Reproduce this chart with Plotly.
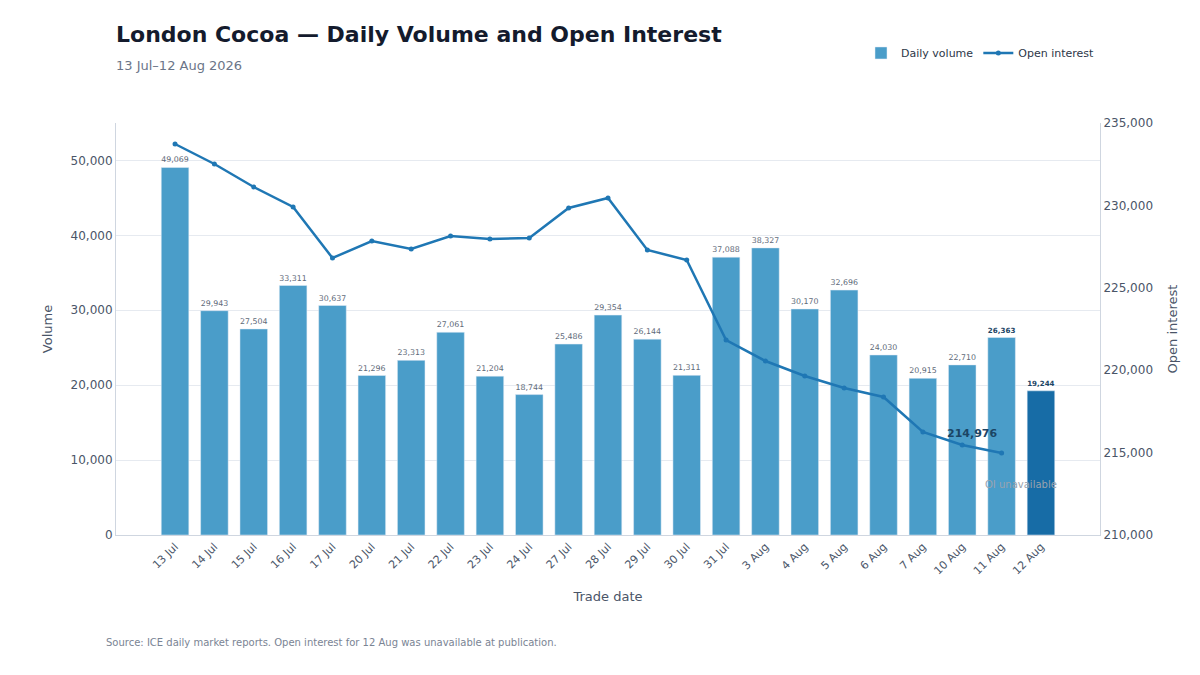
import plotly.graph_objects as go

dates = ["13 Jul", "14 Jul", "15 Jul", "16 Jul", "17 Jul", "20 Jul", "21 Jul", "22 Jul",
         "23 Jul", "24 Jul", "27 Jul", "28 Jul", "29 Jul", "30 Jul", "31 Jul", "3 Aug",
         "4 Aug", "5 Aug", "6 Aug", "7 Aug", "10 Aug", "11 Aug", "12 Aug"]
volume = [49069, 29943, 27504, 33311, 30637, 21296, 23313, 27061, 21204, 18744, 25486,
          29354, 26144, 21311, 37088, 38327, 30170, 32696, 24030, 20915, 22710, 26363, 19244]
open_interest = [233726, 232512, 231117, 229903, 226808, 227840, 227354, 228143, 227961,
                 228022, 229842, 230449, 227294, 226687, 221833, 220558, 219648, 218920,
                 218374, 216250, 215461, 214976, None]

font = "DejaVu Sans"
bar_colors = ["#4a9dc9"] * (len(dates) - 1) + ["#176ca6"]
texts = [f"{v:,}" for v in volume[:-2]] + [f"<b>{v:,}</b>" for v in volume[-2:]]
text_sizes = [8] * (len(dates) - 2) + [11, 11]
text_colors = ["#5f6b7a"] * (len(dates) - 2) + ["#1b4565", "#1b4565"]

fig = go.Figure()
fig.add_trace(go.Bar(
    x=dates, y=volume, name="Daily volume", marker_color=bar_colors,
    text=texts, textposition="outside", cliponaxis=False,
    textfont=dict(size=text_sizes, color=text_colors, family=font),
    width=0.7,
))
fig.add_trace(go.Scatter(
    x=dates, y=open_interest, name="Open interest", yaxis="y2",
    mode="lines+markers", line=dict(color="#1f77b4", width=2.5),
    marker=dict(size=5, color="#1f77b4"),
))
fig.add_annotation(x="10 Aug", y=open_interest[21], yref="y2", text="<b>214,976</b>",
                   showarrow=False, yshift=20, xshift=10,
                   font=dict(size=11, color="#1b4565", family=font))
fig.add_annotation(x=21.5, y=6800, text="OI unavailable", showarrow=False,
                   font=dict(size=10, color="#9aa3ae", family=font))

fig.update_layout(
    width=1200, height=675, plot_bgcolor="white", paper_bgcolor="white",
    font=dict(family=font, color="#4a5568"),
    margin=dict(l=108, r=108, t=115, b=148),
    title=dict(text="<b>London Cocoa — Daily Volume and Open Interest</b><br>"
                    "<span style='font-size:13px;color:#6b7588'>13 Jul–12 Aug 2026</span>",
               x=0.09, xanchor="left", y=0.95, yanchor="top",
               font=dict(size=22, color="#141b2d", family=font)),
    legend=dict(orientation="h", x=1, xanchor="right", y=1.17, yanchor="middle",
                font=dict(size=11, color="#2d3748")),
    bargap=0.3,
    xaxis=dict(title=dict(text="Trade date", font=dict(size=13)), tickangle=-45,
               tickfont=dict(size=11), showline=True, linecolor="#cfd6e0",
               range=[-1.5, 23.5], automargin=False),
    yaxis=dict(title=dict(text="Volume", font=dict(size=13)), range=[0, 55000],
               tickformat=",", gridcolor="#e6eaf0", showline=True, linecolor="#cfd6e0",
               tickfont=dict(size=12), zeroline=False, automargin=False),
    yaxis2=dict(title=dict(text="Open interest", font=dict(size=13)), overlaying="y",
                side="right", range=[210000, 235000], tickformat=",", showgrid=False,
                showline=True, linecolor="#cfd6e0", tickfont=dict(size=12), automargin=False),
)
fig.add_annotation(xref="paper", yref="paper", x=-0.012, y=-0.28, xanchor="left",
                   text="Source: ICE daily market reports. Open interest for 12 Aug was unavailable at publication.",
                   showarrow=False, font=dict(size=10, color="#7a8494", family=font))
fig.write_html("out.html")
